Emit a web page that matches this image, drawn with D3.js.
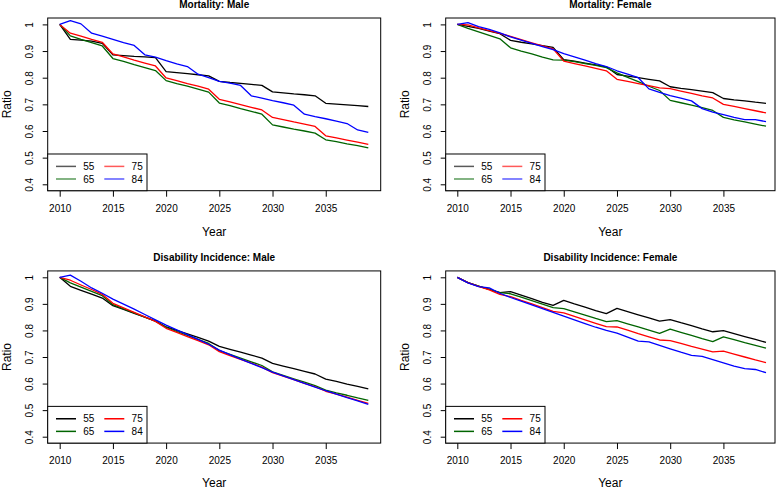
<!DOCTYPE html>
<html><head><meta charset="utf-8">
<script src="https://cdn.jsdelivr.net/npm/d3@7"></script>
<style>
body{margin:0;background:#fff}
text{font-family:"Liberation Sans",Arial,Helvetica,sans-serif}
</style></head>
<body><svg id="chart" width="779" height="489"></svg>
<script>
// ---------- data ----------
const years = [2010,2011,2012,2013,2014,2015,2016,2017,2018,2019,2020,2021,2022,2023,2024,
               2025,2026,2027,2028,2029,2030,2031,2032,2033,2034,2035,2036,2037,2038,2039];
const ageGroups = ["55","65","75","84"];
const seriesColors = ["#000000","#006400","#ff0000","#0000ff"];
const xTickValues = [2010,2015,2020,2025,2030,2035];
const yTickValues = [0.4,0.5,0.6,0.7,0.8,0.9,1.0];
const yTickLabels = ["0.4","0.5","0.6","0.7","0.8","0.9","1"];
const panelTitles = ["Mortality: Male","Mortality: Female","Disability Incidence: Male","Disability Incidence: Female"];

// Mortality: Male
const mortMale55 = [1.000,0.944,0.941,0.937,0.929,0.886,0.883,0.880,0.878,0.875,0.823,0.819,0.815,0.811,0.807,
                    0.786,0.782,0.779,0.775,0.771,0.747,0.743,0.739,0.736,0.732,0.704,0.701,0.698,0.695,0.692];
const mortMale65 = [1.000,0.957,0.944,0.932,0.919,0.872,0.861,0.849,0.838,0.827,0.789,0.778,0.768,0.757,0.746,
                    0.705,0.695,0.684,0.674,0.663,0.623,0.615,0.607,0.600,0.592,0.567,0.560,0.552,0.545,0.537];
const mortMale75 = [1.000,0.967,0.956,0.944,0.933,0.889,0.878,0.866,0.855,0.844,0.799,0.789,0.778,0.768,0.757,
                    0.719,0.709,0.699,0.689,0.679,0.651,0.643,0.634,0.626,0.617,0.582,0.574,0.566,0.558,0.550];
const mortMale84 = [1.000,1.014,1.002,0.967,0.956,0.944,0.932,0.921,0.886,0.877,0.864,0.852,0.842,0.813,0.800,
                    0.786,0.780,0.771,0.732,0.723,0.714,0.706,0.697,0.663,0.654,0.646,0.637,0.628,0.604,0.595];
// Mortality: Female
const mortFemale55 = [1.000,0.993,0.985,0.975,0.965,0.940,0.933,0.927,0.920,0.914,0.868,0.862,0.855,0.848,0.841,
                      0.812,0.806,0.800,0.794,0.788,0.766,0.760,0.755,0.750,0.744,0.722,0.717,0.713,0.708,0.704];
const mortFemale65 = [1.000,0.985,0.972,0.959,0.946,0.912,0.900,0.889,0.877,0.867,0.866,0.860,0.853,0.846,0.838,
                      0.818,0.801,0.785,0.768,0.752,0.715,0.706,0.697,0.688,0.677,0.651,0.642,0.634,0.626,0.618];
const mortFemale75 = [1.000,0.998,0.987,0.977,0.966,0.955,0.943,0.931,0.919,0.908,0.862,0.853,0.844,0.835,0.826,
                      0.794,0.786,0.778,0.770,0.762,0.759,0.750,0.741,0.732,0.724,0.700,0.692,0.684,0.676,0.668];
const mortFemale84 = [1.000,1.007,0.992,0.981,0.968,0.953,0.941,0.929,0.917,0.905,0.890,0.878,0.866,0.853,0.842,
                      0.826,0.813,0.800,0.758,0.745,0.733,0.723,0.713,0.684,0.671,0.661,0.651,0.643,0.643,0.635];
// Disability Incidence: Male
const disMale55 = [1.000,0.966,0.951,0.937,0.922,0.893,0.879,0.864,0.850,0.835,0.813,0.800,0.787,0.774,0.760,
                   0.740,0.729,0.718,0.707,0.696,0.676,0.666,0.656,0.646,0.636,0.617,0.608,0.598,0.589,0.580];
const disMale65 = [1.000,0.979,0.963,0.947,0.931,0.897,0.881,0.866,0.850,0.835,0.812,0.796,0.781,0.766,0.751,
                   0.724,0.710,0.696,0.682,0.668,0.644,0.631,0.618,0.605,0.592,0.575,0.565,0.556,0.546,0.537];
const disMale75 = [1.000,0.989,0.971,0.954,0.936,0.902,0.885,0.868,0.851,0.834,0.808,0.793,0.777,0.762,0.746,
                   0.720,0.705,0.691,0.677,0.662,0.641,0.628,0.615,0.601,0.588,0.571,0.560,0.549,0.537,0.525];
const disMale84 = [1.000,1.008,0.985,0.960,0.940,0.918,0.899,0.880,0.860,0.840,0.820,0.802,0.784,0.766,0.748,
                   0.726,0.709,0.692,0.676,0.660,0.643,0.629,0.615,0.601,0.587,0.573,0.560,0.547,0.535,0.522];
// Disability Incidence: Female
const disFemale55 = [1.000,0.980,0.967,0.955,0.942,0.946,0.933,0.920,0.906,0.894,0.913,0.900,0.888,0.875,0.863,
                     0.883,0.871,0.859,0.847,0.835,0.841,0.829,0.818,0.806,0.795,0.799,0.788,0.777,0.766,0.755];
const disFemale65 = [1.000,0.980,0.967,0.955,0.942,0.938,0.925,0.912,0.899,0.886,0.882,0.870,0.858,0.845,0.833,
                     0.837,0.825,0.813,0.801,0.789,0.805,0.793,0.781,0.769,0.758,0.776,0.765,0.754,0.744,0.733];
const disFemale75 = [1.000,0.980,0.966,0.953,0.936,0.927,0.913,0.900,0.886,0.872,0.866,0.853,0.840,0.827,0.814,
                     0.813,0.801,0.788,0.776,0.764,0.762,0.751,0.740,0.730,0.719,0.722,0.711,0.700,0.689,0.679];
const disFemale84 = [1.000,0.979,0.965,0.960,0.940,0.924,0.910,0.896,0.882,0.868,0.854,0.840,0.826,0.812,0.800,
                     0.790,0.775,0.760,0.757,0.744,0.731,0.718,0.706,0.702,0.690,0.678,0.666,0.656,0.653,0.641];

const panelSeries = [
  [mortMale55, mortMale65, mortMale75, mortMale84],
  [mortFemale55, mortFemale65, mortFemale75, mortFemale84],
  [disMale55, disMale65, disMale75, disMale84],
  [disFemale55, disFemale65, disFemale75, disFemale84]
];

// ---------- layout ----------
const layout = [
  {x0:59.7, x1:368.3, boxL:47.7, boxR:380.7, y1:24.4, y04:184.3, legendAlpha:0.65},
  {x0:457.3, x1:766.0, boxL:445.7, boxR:775.0, y1:24.4, y04:184.3, legendAlpha:0.65},
  {x0:59.7, x1:368.3, boxL:47.7, boxR:380.7, y1:277.3, y04:436.7, legendAlpha:1},
  {x0:457.3, x1:766.0, boxL:445.7, boxR:775.0, y1:277.3, y04:436.7, legendAlpha:1}
];

const svg = d3.select("#chart");

layout.forEach((L, p) => {
  const x = d3.scaleLinear().domain([2010, 2039]).range([L.x0, L.x1]);
  const y = d3.scaleLinear().domain([0.4, 1.0]).range([L.y04, L.y1]);
  const boxT = y(1.024), boxB = y(0.376);
  const g = svg.append("g");

  // series lines
  const line = d3.line().x((d, i) => x(years[i])).y(d => y(d));
  panelSeries[p].forEach((vals, s) => {
    g.append("path").datum(vals)
      .attr("d", line)
      .attr("fill", "none")
      .attr("stroke", seriesColors[s])
      .attr("stroke-width", 1.3)
      .attr("stroke-linejoin", "round");
  });

  // box
  g.append("rect").attr("x", L.boxL).attr("y", boxT)
    .attr("width", L.boxR - L.boxL).attr("height", boxB - boxT)
    .attr("fill", "none").attr("stroke", "#000").attr("stroke-width", 1);

  // x axis
  const xa = g.append("g").attr("transform", `translate(0,${boxB})`)
    .call(d3.axisBottom(x).tickValues(xTickValues).tickFormat(d3.format("d"))
      .tickSize(6).tickSizeOuter(0).tickPadding(8));
  xa.select(".domain").remove();
  xa.selectAll("line").attr("stroke", "#000");
  xa.selectAll("text").attr("font-size", 10).attr("fill", "#000")
    .attr("font-family", '"Liberation Sans",Arial,sans-serif');

  // y axis
  const ya = g.append("g").attr("transform", `translate(${L.boxL},0)`)
    .call(d3.axisLeft(y).tickValues(yTickValues)
      .tickFormat((d, i) => yTickLabels[i]).tickSize(5).tickSizeOuter(0));
  ya.select(".domain").remove();
  ya.selectAll("line").attr("stroke", "#000");
  ya.selectAll("text").attr("font-size", 10).attr("fill", "#000")
    .attr("font-family", '"Liberation Sans",Arial,sans-serif')
    .attr("text-anchor", "middle")
    .attr("transform", "rotate(-90)")
    .attr("x", 0).attr("y", -14.8).attr("dy", 0);

  // title
  g.append("text").attr("x", (L.boxL + L.boxR) / 2).attr("y", boxT - 10)
    .attr("text-anchor", "middle").attr("font-size", 10).attr("font-weight", "bold")
    .text(panelTitles[p]);

  // axis labels
  g.append("text").attr("x", (L.boxL + L.boxR) / 2).attr("y", Math.min(boxB + 45.3, 487))
    .attr("text-anchor", "middle").attr("font-size", 12).text("Year");
  g.append("text")
    .attr("transform", `translate(${L.boxL - 36.8},${(boxT + boxB) / 2}) rotate(-90)`)
    .attr("text-anchor", "middle").attr("font-size", 12).text("Ratio");

  // legend
  const lgW = 99.3, lgH = 36.7;
  const lg = g.append("g").attr("transform", `translate(${L.boxL},${boxB - lgH})`);
  lg.append("rect").attr("width", lgW).attr("height", lgH)
    .attr("fill", "#fff").attr("stroke", "#000").attr("stroke-width", 1);
  ageGroups.forEach((a, s) => {
    const col = Math.floor(s / 2), row = s % 2;
    const lx = 8.3 + col * 48.3, ly = 12.4 + row * 12.6;
    lg.append("line").attr("x1", lx).attr("x2", lx + 20).attr("y1", ly).attr("y2", ly)
      .attr("stroke", seriesColors[s]).attr("stroke-width", 1.5)
      .attr("stroke-opacity", L.legendAlpha);
    lg.append("text").attr("x", lx + 27.3).attr("y", ly + 3.6)
      .attr("font-size", 10).text(a);
  });
});
</script>
</body></html>
